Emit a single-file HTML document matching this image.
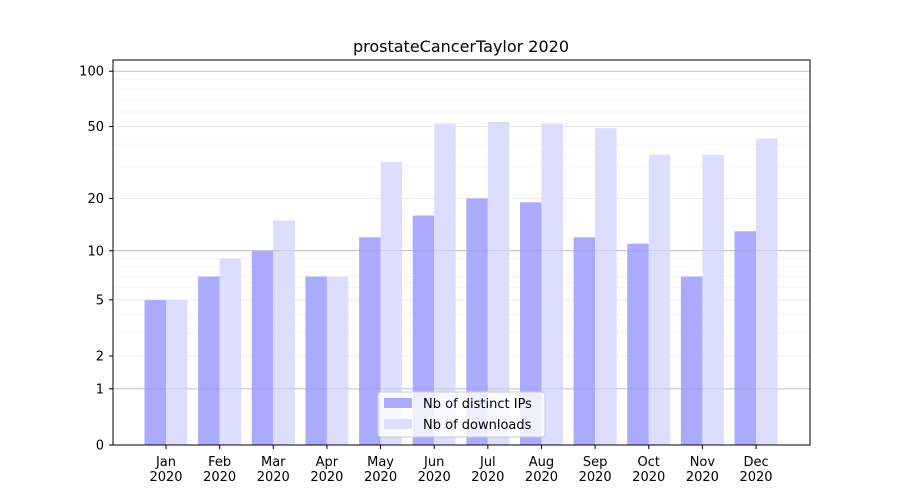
<!DOCTYPE html>
<html><head><meta charset="utf-8"><style>
body{margin:0;background:#fff;}
svg{display:block;font-family:"DejaVu Sans","Liberation Sans",sans-serif;}
</style></head><body>
<svg id="s" width="900" height="500" xmlns="http://www.w3.org/2000/svg"></svg>
<script>
const s=document.getElementById('s');
const Y=v=>445-186.5*Math.log10(v+1);
let h='<rect width="900" height="500" fill="#fff"/>';
const minors=[3,4,6,7,8,9,30,40,60,70,80,90];
minors.forEach(v=>h+=`<line x1="113" x2="810" y1="${Y(v)}" y2="${Y(v)}" stroke="#f0f0f0" stroke-width="0.8"/>`);
[2,5,20,50].forEach(v=>h+=`<line x1="113" x2="810" y1="${Y(v)}" y2="${Y(v)}" stroke="#e6e6e6" stroke-width="0.8"/>`);
[1,10,100].forEach(v=>h+=`<line x1="113" x2="810" y1="${Y(v)}" y2="${Y(v)}" stroke="#bbbbbb" stroke-width="0.8"/>`);
const ips=[5,7,10,7,12,16,20,19,12,11,7,13];
const dl=[5,9,15,7,32,52,53,52,49,35,35,43];
const m=['Jan','Feb','Mar','Apr','May','Jun','Jul','Aug','Sep','Oct','Nov','Dec'];
for(let i=0;i<12;i++){
 const c=166+i*53.64;
 h+=`<rect x="${c-21.5}" y="${Y(ips[i])}" width="21.5" height="${445-Y(ips[i])}" fill="#aaaaff"/>`;
 h+=`<rect x="${c}" y="${Y(dl[i])}" width="21.5" height="${445-Y(dl[i])}" fill="#ddddff"/>`;
 h+=`<line x1="${c}" x2="${c}" y1="445" y2="449" stroke="#000"/>`;
 h+=`<text x="${c}" y="466" font-size="13" text-anchor="middle">${m[i]}</text><text x="${c}" y="481" font-size="13" text-anchor="middle">2020</text>`;
}
[1,10].forEach(v=>h+=`<line x1="113" x2="810" y1="${Y(v)}" y2="${Y(v)}" stroke="#999" stroke-opacity="0.35" stroke-width="0.8"/>`);
[0,1,2,5,10,20,50,100].forEach(v=>{const y=Y(v);h+=`<line x1="109" x2="113" y1="${y}" y2="${y}" stroke="#000"/><text x="104" y="${y+4.5}" font-size="13" text-anchor="end">${v}</text>`;});
h+='<rect x="113" y="60" width="697" height="385" fill="none" stroke="#000" stroke-width="1"/>';
h+='<text x="461" y="52" font-size="16" text-anchor="middle">prostateCancerTaylor 2020</text>';
h+='<rect x="378" y="392" width="167" height="45" rx="3" fill="#fff" fill-opacity="0.8" stroke="#ccc"/>';
h+='<rect x="384" y="398" width="28" height="10" fill="#aaaaff"/><text x="423" y="408" font-size="13">Nb of distinct IPs</text>';
h+='<rect x="384" y="419" width="28" height="10" fill="#ddddff"/><text x="423" y="429" font-size="13">Nb of downloads</text>';
s.innerHTML=h;
</script>
</body></html>
